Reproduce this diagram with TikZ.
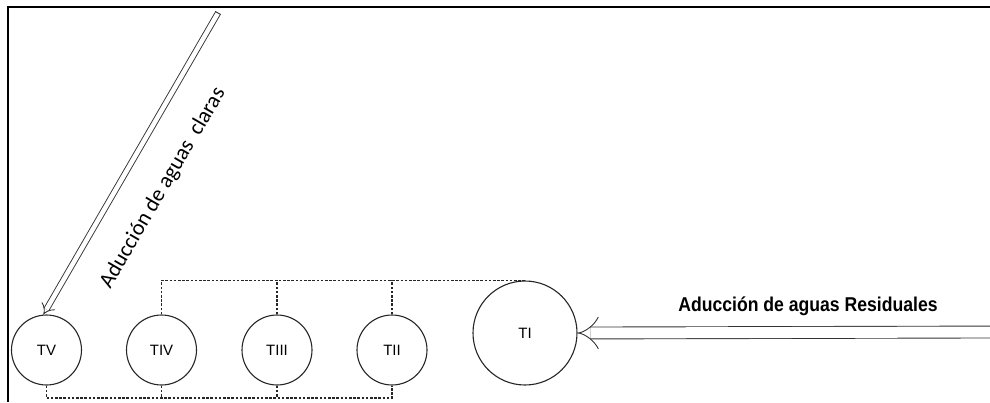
\documentclass[tikz,border=0pt]{standalone}
\usepackage{fontspec}
\setmainfont{Liberation Sans}
\newfontfamily\calibri{Carlito}
\usetikzlibrary{arrows.meta, positioning, calc}

\begin{document}
\begin{tikzpicture}[
    x=1pt, y=-1pt, >=Implies,
    tank/.style={circle, draw=black!85, line width=1.1pt, inner sep=0pt, minimum size=70pt, font=\fontsize{15}{15}\selectfont},
    pipe/.style={draw=black!85, dash pattern=on 2.6pt off 1.6pt, line width=1.2pt},
    feed/.style={draw=black!80, double=white, line width=0.9pt, ->},
  ]
  \useasboundingbox (0,0) rectangle (990,402);
  % 枠（上と左だけ）
  \draw[line width=2.6pt] (8,402) -- (8,7) -- (990,7);
  % タンク
  \def\yT{350}
  \node[tank] (TV) at (46.5,\yT) {TV};
  \node[tank] (TIV) at (161.5,\yT) {TIV};
  \node[tank] (TIII) at (277,\yT) {TIII};
  \node[tank] (TII) at (392,\yT) {TII};
  \node[tank, minimum size=104pt] (TI) at (525,333) {TI};
  % 上側の連結管
  \draw[pipe] (TIV.north) |- (TI.north);
  \draw[pipe] (TIII.north) -- (TIII.north |- TI.north);
  \draw[pipe] (TII.north) -- (TII.north |- TI.north);
  % 下側の連結管
  \coordinate (bus) at (0,398);
  \draw[pipe] (TV.south) -- (TV.south |- bus) -| (TII.south);
  \draw[pipe] (TIV.south) -- (TIV.south |- bus);
  \draw[pipe] (TIII.south) -- (TIII.south |- bus);
  % 流入管
  \coordinate (inA) at (218,13);
  \coordinate (inB) at (1000,332);
  \draw[feed, double distance=4.5pt] (inA) -- (TV.95);
  \draw[black!80, line width=0.9pt] ($(inA)!3.2pt!90:(TV.95)$) -- ($(inA)!3.2pt!-90:(TV.95)$);
  \draw[feed, double distance=11pt] (inB) -- (TI.east);
  \node[font=\calibri\fontsize{22}{22}\selectfont, rotate=59.7] (lblA) at (163,188) {Aducción de aguas\ \ claras};
  \node[font=\bfseries\fontsize{20}{20}\selectfont, xscale=0.88] (lblB) at (808,306) {Aducción de aguas Residuales};
\end{tikzpicture}
\end{document}
